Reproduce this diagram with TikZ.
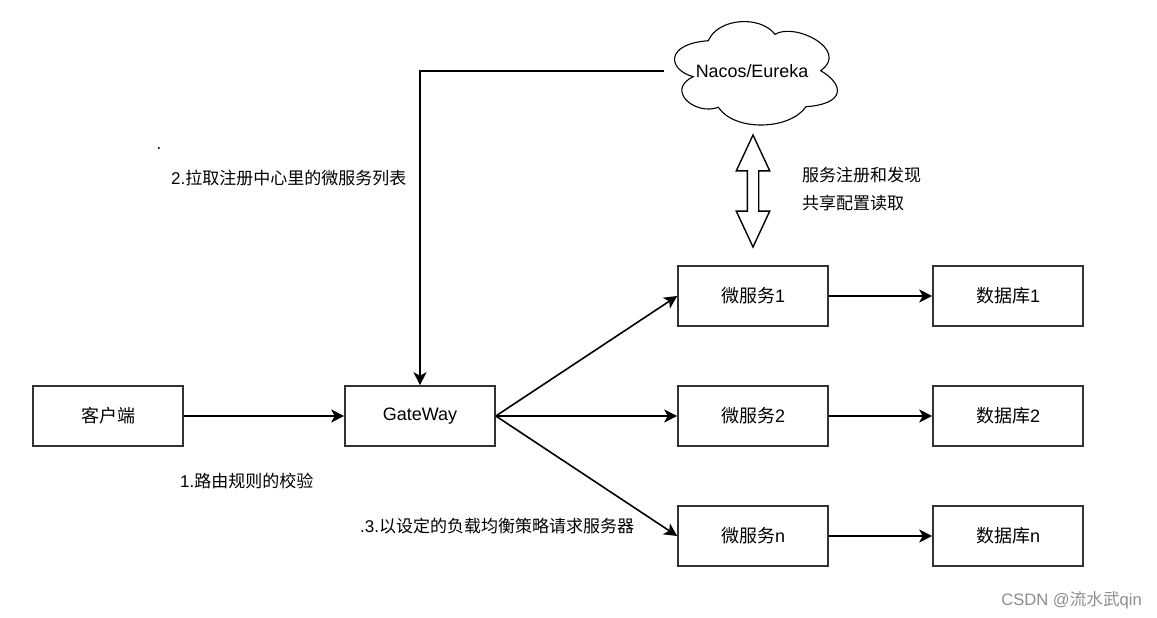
\documentclass[tikz,border=0pt]{standalone}
\usepackage{fontspec}
\setmainfont{Liberation Sans}
\newfontfamily\cjk{Noto Sans CJK SC}
\usetikzlibrary{arrows.meta,shapes.arrows}
\definecolor{edgegray}{HTML}{333333}
\tikzset{
    stepbox/.style={draw=edgegray, line width=1.6pt, minimum width=150pt, minimum height=60pt, inner sep=0pt, font=\fontsize{18}{20}\selectfont},
    note/.style={anchor=west, inner sep=0pt, font=\fontsize{17}{20}\selectfont},
    link/.style={draw=black, line width=1.6pt, -{Stealth[length=13pt,width=13pt,inset=3.5pt]}},
}
\begin{document}
\begin{tikzpicture}[x=1pt, y=-1pt]
    \useasboundingbox (0,0) rectangle (1157,618);
    \node[stepbox] (client) at (108,416) {{\cjk 客户端}};
    \node[stepbox] (gateway) at (420,416) {GateWay};
    \node[stepbox] (svcone) at (753,296) {{\cjk 微服务}1};
    \node[stepbox] (svctwo) at (753,416) {{\cjk 微服务}2};
    \node[stepbox] (svcn) at (753,536) {{\cjk 微服务}n};
    \node[stepbox] (dbone) at (1008,296) {{\cjk 数据库}1};
    \node[stepbox] (dbtwo) at (1008,416) {{\cjk 数据库}2};
    \node[stepbox] (dbn) at (1008,536) {{\cjk 数据库}n};
    \draw[line width=1.1pt, draw=black] (693.3,76.7)
        .. controls (668,70) and (664,44) .. (708.3,40.7)
        .. controls (718,18) and (760,15) .. (775,34.3)
        .. controls (795,22) and (850,50) .. (820.7,70.7)
        .. controls (845,85) and (845,104) .. (806,106.7)
        .. controls (790,130) and (735,132) .. (718.3,107.3)
        .. controls (695,116) and (665,90) .. cycle;
    \node[inner sep=0pt, font=\fontsize{17.9}{20}\selectfont] (registry) at (752,71) {Nacos/Eureka};
    \coordinate (pull) at (664,71);
    \node[draw=black, line width=1.4pt, double arrow, shape border rotate=90, inner sep=5pt,
        minimum height=112pt, minimum width=32pt, double arrow head extend=11pt,
        double arrow tip angle=50] (sync) at (753,191) {};
    \node[note] (regnote) at (802,175) {\cjk 服务注册和发现};
    \node[note] (cfgnote) at (802,203) {\cjk 共享配置读取};
    \node[note] (dot) at (156.5,149) {.};
    \node[note] (pullnote) at (171,178) {2.{\cjk 拉取注册中心里的微服务列表}};
    \node[note] (routenote) at (180,481) {1.{\cjk 路由规则的校验}};
    \node[note] (lbnote) at (360,526) {.3.{\cjk 以设定的负载均衡策略请求服务器}};
    \node[anchor=east, inner sep=0pt, text=black!45, font=\fontsize{16.6}{18}\selectfont] (mark) at (1142,600) {CSDN @{\cjk 流水武}qin};
    \draw[link] (client) -- (gateway);
    \draw[link] (pull) -| (gateway.north);
    \draw[link] (gateway.east) -- (svcone.west);
    \draw[link] (gateway.east) -- (svctwo.west);
    \draw[link] (gateway.east) -- (svcn.west);
    \draw[link] (svcone) -- (dbone);
    \draw[link] (svctwo) -- (dbtwo);
    \draw[link] (svcn) -- (dbn);
\end{tikzpicture}
\end{document}
